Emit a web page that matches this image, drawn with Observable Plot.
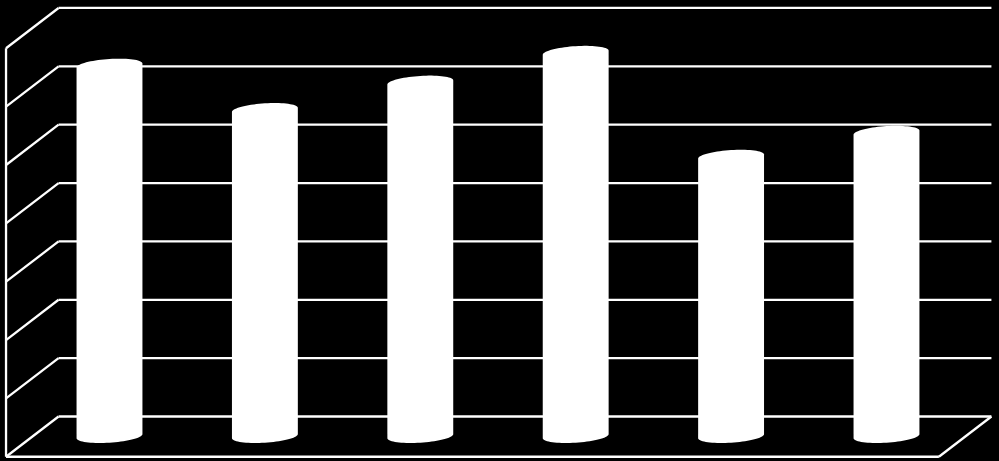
<!DOCTYPE html>
<html>
<head>
<meta charset="utf-8">
<script src="https://cdn.jsdelivr.net/npm/d3@7"></script>
<script src="https://cdn.jsdelivr.net/npm/@observablehq/plot@0.6"></script>
<style>
html,body{margin:0;padding:0;background:#000;overflow:hidden}
svg{display:block}
</style>
</head>
<body>
<div id="chart"></div>
<script>
// Chart values (in gridline-interval units)
const categories = [0, 1, 2, 3, 4, 5];
const values = [6.35, 5.59, 6.06, 6.57, 4.79, 5.20];
const gridLevels = [0, 1, 2, 3, 4, 5, 6, 7];

// Oblique-projection parameters, in data units
const depthX = 0.338, depthY = 0.69;
const floorLeft = -0.331, floorRight = 5.672;
const cylHalfWidth = 0.212, rimMinor = 0.112, rimSkew = 0.035;

// Cylinders sit half way through the depth of the floor
const cylBase = -depthY / 2;
const thetas = d3.range(0, 181, 5).map(d => d * Math.PI / 180);
const cylinders = categories.flatMap((c, i) => thetas.map(th => {
  const t = Math.cos(th), s = Math.sin(th);
  return {
    c,
    x: c + cylHalfWidth * t,
    top: cylBase + values[i] + rimSkew * t + rimMinor * s,
    bottom: cylBase + rimSkew * t - rimMinor * s
  };
}));

const backGrid = gridLevels.map(l => ({x1: floorLeft, x2: floorRight, y: l}));
const sideGrid = gridLevels.map(l => ({x1: floorLeft - depthX, y1: l - depthY, x2: floorLeft, y2: l}));
const frame = [
  {x1: floorLeft - depthX, y1: -depthY, x2: floorLeft - depthX, y2: 7 - depthY},
  {x1: floorLeft - depthX, y1: -depthY, x2: floorRight - depthX, y2: -depthY},
  {x1: floorRight - depthX, y1: -depthY, x2: floorRight, y2: 0}
];

const line = {stroke: "#fff", strokeWidth: 2.3};
const chart = Plot.plot({
  width: 999,
  height: 461,
  margin: 0,
  style: {background: "#000"},
  x: {type: "linear", domain: [-0.7046, 5.724], range: [0, 999], axis: null},
  y: {type: "linear", domain: [-0.771, 7.128], range: [461, 0], axis: null},
  marks: [
    Plot.link(backGrid, {x1: "x1", x2: "x2", y1: "y", y2: "y", ...line}),
    Plot.link(sideGrid, {x1: "x1", y1: "y1", x2: "x2", y2: "y2", ...line}),
    Plot.link(frame, {x1: "x1", y1: "y1", x2: "x2", y2: "y2", ...line}),
    Plot.areaY(cylinders, {x: "x", y1: "bottom", y2: "top", z: "c", fill: "#fff", curve: "linear"})
  ]
});
document.getElementById("chart").append(chart);
</script>
</body>
</html>
